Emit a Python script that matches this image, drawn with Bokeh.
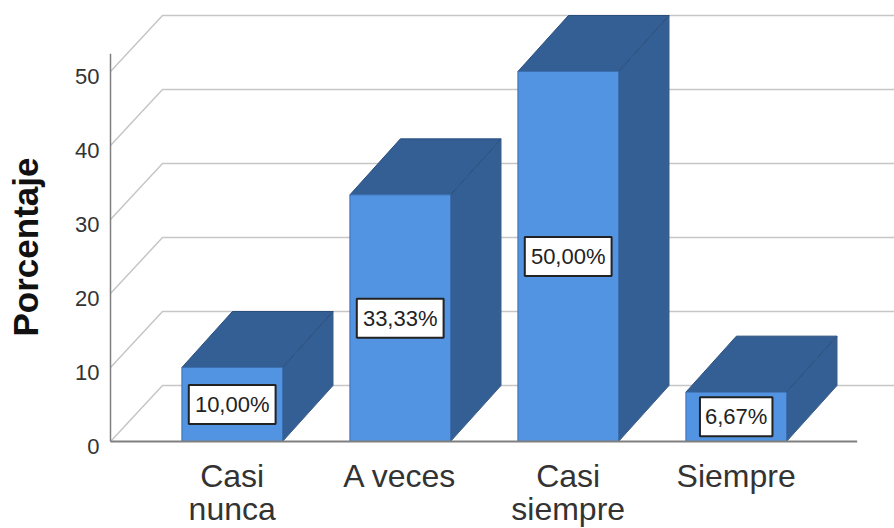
from math import pi

from bokeh.core.properties import value
from bokeh.embed import file_html
from bokeh.models import Range1d
from bokeh.plotting import figure
from bokeh.resources import INLINE

categories = ["Casi\nnunca", "A veces", "Casi\nsiempre", "Siempre"]
values = [10.0, 33.33, 50.0, 6.67]
y_ticks = [0, 10, 20, 30, 40, 50]
y_title = "Porcentaje"

WIDTH, HEIGHT = 894, 528
FLOOR_PX = 441.0            # canvas row of value 0
FIRST_PX = 231.7            # canvas column of the first category
PX_PER_CAT = 168.0
PX_PER_UNIT = 7.4


def col(px):
    """Canvas column to category coordinate."""
    return (px - FIRST_PX) / PX_PER_CAT


def row(px):
    """Canvas row to value coordinate."""
    return (FLOOR_PX - px) / PX_PER_UNIT


# oblique projection of the 3D box: depth expressed in each axis' data units
DX = 50.5 / PX_PER_CAT
DY = 56.0 / PX_PER_UNIT
HALF = 50.3 / PX_PER_CAT
WALL_DX = 52.0 / PX_PER_CAT

FRONT = "#5294E2"
DARK = "#335F94"
EDGE = "#2A4F7C"
GRID = "#C6C6C6"
AXIS = "#7F7F7F"
FONT = value("Liberation Sans")

p = figure(width=WIDTH, height=HEIGHT, output_backend="svg", toolbar_location=None,
           x_range=Range1d(col(0), col(WIDTH)), y_range=Range1d(row(HEIGHT), row(0)),
           min_border=0, x_axis_location=None, y_axis_location=None, outline_line_color=None,
           background_fill_color="white", border_fill_color="white")
p.grid.visible = False

# side wall and back wall lines, one for each tick
wall_left = col(110)
wall_x = [wall_left, wall_left + WALL_DX, col(WIDTH)]
for t in y_ticks:
    p.line(wall_x, [t, t + DY, t + DY], line_color=GRID, line_width=1.5)

# box faces
for i, v in enumerate(values):
    l, r = i - HALF, i + HALF
    p.patch([r, r + DX, r + DX, r], [0, DY, v + DY, v],
            fill_color=DARK, line_color="#3F5F85", line_width=1)
    p.patch([l, l + DX, r + DX, r], [v, v + DY, v + DY, v],
            fill_color=DARK, line_color=EDGE, line_width=1)
    p.quad(left=l, right=r, bottom=0, top=v, fill_color=FRONT, line_color="#3C6FB0", line_width=1)

# value labels sit in white boxes, centred on the front face
labels = [f"{v:.2f}".replace(".", ",") + "%" for v in values]
xs = list(range(len(values)))
mids = [v / 2 for v in values]
p.rect(xs, mids, width=[len(s) * 14.3 + 1 for s in labels], height=39,
       width_units="screen", height_units="screen",
       fill_color="white", line_color="#222222", line_width=2)
p.text(xs, mids, text=labels, text_align="center", text_baseline="middle",
       text_font=FONT, text_font_size="22px", text_color="#222222")

# y tick labels
p.text([col(99)] * len(y_ticks), y_ticks, text=[str(t) for t in y_ticks], y_offset=5,
       text_align="right", text_baseline="middle", text_font=FONT, text_font_size="22px",
       text_color="#333333")

# y axis title
p.text([col(25)], [row(246.5)], text=[y_title], angle=pi / 2,
       text_align="center", text_baseline="middle", text_font=FONT, text_font_size="35px",
       text_font_style="bold", text_color="#111111")

# category names, one text per line for a tight line pitch
for x, name in zip(xs, categories):
    for line, offset in zip(name.split("\n"), (34, 67)):
        p.text([x], [0], text=[line], y_offset=offset,
               text_align="center", text_baseline="middle", text_font=FONT,
               text_font_size="32px", text_color="#333333")

# axis lines
p.line([wall_left, wall_left], [0, 52.4], line_color=AXIS, line_width=1.5)
p.line([wall_left, 3.72], [0, 0], line_color=AXIS, line_width=2)

open("out.html", "w").write(file_html(p, INLINE))
